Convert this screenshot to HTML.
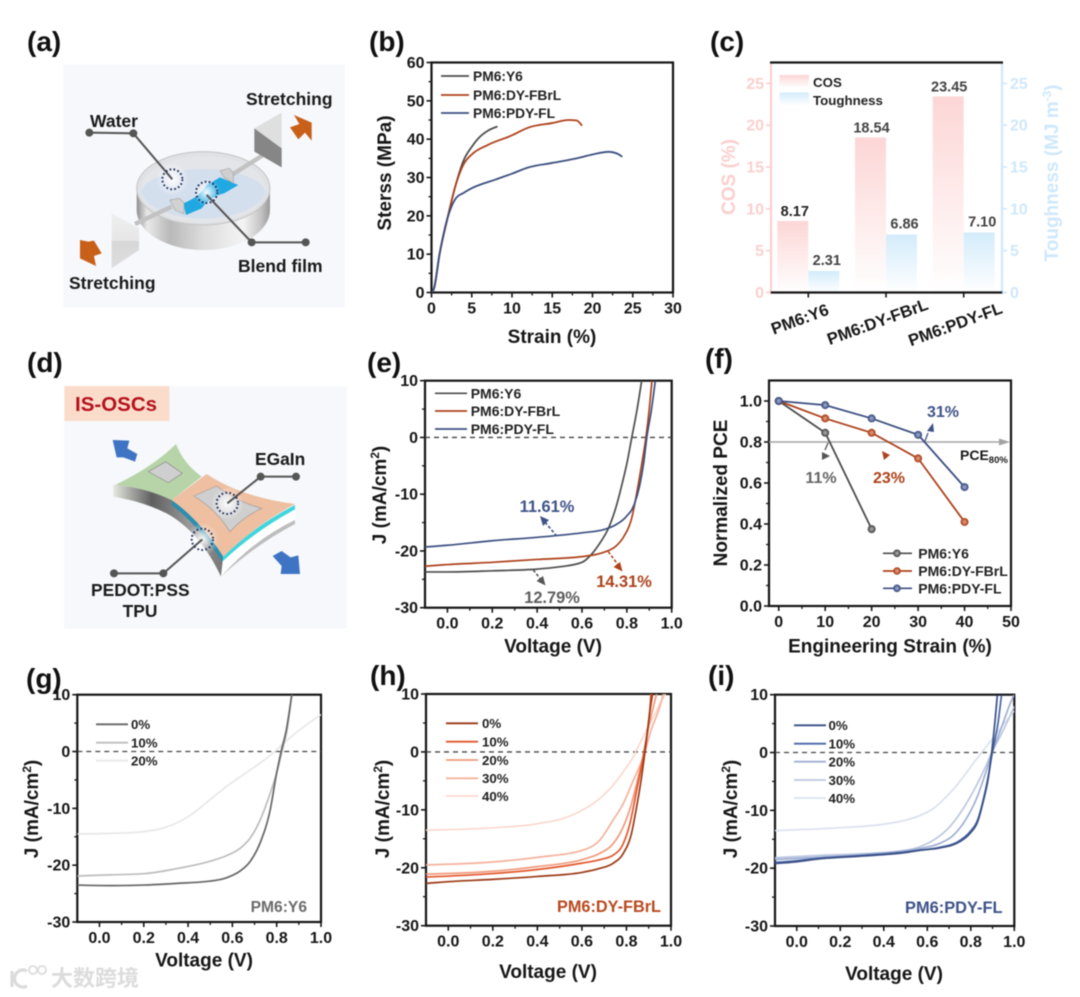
<!DOCTYPE html>
<html lang="en">
<head>
<meta charset="utf-8">
<title>Stretchable organic solar cell figure</title>
<style>
html,body{margin:0;padding:0;background:#fff;}
#figure{display:block;position:absolute;left:0;top:0;width:1080px;height:997px;filter:blur(.45px);
font-family:"Liberation Sans","Noto Sans CJK SC",sans-serif;font-weight:bold;}
</style>
</head>
<body>
<svg id="figure" xmlns="http://www.w3.org/2000/svg" width="1080" height="997" viewBox="0 0 1080 997">
<defs>
<linearGradient id="cos-grad" x1="0" y1="0" x2="0" y2="1"><stop offset="0" stop-color="#fdd6d6"/><stop offset="1" stop-color="#ffffff"/></linearGradient>
<linearGradient id="tough-grad" x1="0" y1="0" x2="0" y2="1"><stop offset="0" stop-color="#d3ecfb"/><stop offset="1" stop-color="#ffffff"/></linearGradient>
<linearGradient id="metal" x1="0" y1="0" x2="1" y2="0"><stop offset="0" stop-color="#8f8f8f"/><stop offset=".08" stop-color="#e9e9e9"/><stop offset=".25" stop-color="#b9b9b9"/><stop offset=".5" stop-color="#dcdcdc"/><stop offset=".8" stop-color="#f4f4f4"/><stop offset=".93" stop-color="#c4c4c4"/><stop offset="1" stop-color="#9a9a9a"/></linearGradient>
<linearGradient id="plate" x1="0" y1="0" x2="0" y2="1"><stop offset="0" stop-color="#efefef"/><stop offset=".5" stop-color="#e6e6e6"/><stop offset=".5" stop-color="#d7d7d7"/><stop offset="1" stop-color="#dedede"/></linearGradient>
<linearGradient id="edge" x1="0" y1="0" x2="1" y2="0"><stop offset="0" stop-color="#e5e7e0"/><stop offset=".35" stop-color="#5f5f5f"/><stop offset=".7" stop-color="#9a9a9a"/><stop offset="1" stop-color="#777"/></linearGradient>
<radialGradient id="glow"><stop offset="0" stop-color="#fff" stop-opacity=".95"/><stop offset="1" stop-color="#fff" stop-opacity="0"/></radialGradient>
<radialGradient id="dot-gray"><stop offset="0" stop-color="#b5b5b5"/><stop offset="1" stop-color="#4d4d4d"/></radialGradient>
<radialGradient id="dot-red"><stop offset="0" stop-color="#eaa98f"/><stop offset="1" stop-color="#ad421b"/></radialGradient>
<radialGradient id="dot-blue"><stop offset="0" stop-color="#a9b7da"/><stop offset="1" stop-color="#3b4f80"/></radialGradient>
</defs>

<rect width="1080" height="997" fill="#fff"/>

<!-- Panel letters -->
<g font-size="28" fill="#111">
<text x="27" y="51">(a)</text>
<text x="369" y="51">(b)</text>
<text x="710" y="51">(c)</text>
<text x="27" y="372">(d)</text>
<text x="367" y="372">(e)</text>
<text x="705" y="368">(f)</text>
<text x="26" y="688">(g)</text>
<text x="370" y="685">(h)</text>
<text x="708" y="685">(i)</text>
</g>

<!-- Panel a illustration -->
<g transform="translate(20,20) scale(.33333)">
<rect x="130" y="133" width="845" height="729" fill="#f6f8fb"/>
<path d="M350 505 L350 570 A200 120 0 0 0 750 570 L750 505 Z" fill="url(#metal)"/>
<ellipse cx="550" cy="505" rx="200" ry="110" fill="#dfe1e4" stroke="#c4c4c4" stroke-width="3"/>
<ellipse cx="550" cy="508" rx="187" ry="100" fill="#e3e5e9"/>
<path d="M364 515 A187 90 0 0 0 736 515 A187 76 0 0 0 364 515 Z" fill="#d4dfed"/>
<circle cx="457" cy="478" r="50" fill="url(#glow)"/>
<path d="M600 472 L655 495 L612 520 Q570 530 545 565 L498 585 L490 550 Q540 530 560 495 Z" fill="#1fa8e2"/>
<circle cx="560" cy="517" r="42" fill="url(#glow)"/>
<line x1="345" y1="612" x2="455" y2="560" stroke="#c2c2c2" stroke-width="13"/>
<line x1="635" y1="465" x2="750" y2="392" stroke="#c2c2c2" stroke-width="13"/>
<polygon points="450,540 478,535 492,548 492,582 465,570" fill="#d2d2d2" stroke="#a5a5a5" stroke-width="2"/>
<polygon points="600,452 628,445 640,458 640,490 612,472" fill="#cfcfcf" stroke="#a5a5a5" stroke-width="2"/>
<polygon points="275,580 357,625 357,690 275,745" fill="url(#plate)"/>
<polygon points="703,325 785,278 785,385" fill="#dfdfdf"/>
<polygon points="703,325 785,385 785,442 703,395" fill="#868686"/>
<polygon points="822,285 875,308 875,362 855,338 835,358 810,322 838,312" fill="#c9601a"/>
<polygon points="180,660 205,665 222,662 245,700 222,708 228,738 180,715" fill="#c9601a"/>
<polyline points="208,338 340,340 457,478" fill="none" stroke="#555" stroke-width="6"/>
<circle cx="208" cy="338" r="12" fill="#555"/>
<circle cx="340" cy="340" r="12" fill="#555"/>
<circle cx="457" cy="478" r="30" fill="none" stroke="#1f2d5c" stroke-width="6" stroke-dasharray="5 7"/>
<polyline points="560,525 695,667 857,667" fill="none" stroke="#555" stroke-width="6"/>
<circle cx="695" cy="667" r="12" fill="#555"/>
<circle cx="857" cy="667" r="12" fill="#555"/>
<circle cx="560" cy="517" r="32" fill="none" stroke="#1f2d5c" stroke-width="6" stroke-dasharray="5 7"/>
</g>
<g font-size="17.5" fill="#1a1a1a">
<text x="90" y="127">Water</text>
<text x="246" y="105">Stretching</text>
<text x="69" y="289">Stretching</text>
<text x="238" y="272">Blend film</text>
</g>

<!-- Panel d illustration -->
<g transform="translate(20,350) scale(.33333)">
<rect x="133" y="108" width="847" height="727" fill="#f6f8fb"/>
<rect x="133" y="108" width="315" height="105" fill="#fbdccb"/>
<path d="M280 405 Q370 410 455 450 Q540 510 610 620 L603 680 Q540 545 440 490 Q370 455 280 440 Z" fill="url(#edge)"/>
<path d="M455 450 Q540 510 610 620 L607 636 Q540 530 455 465 Z" fill="#2a8fb0"/>
<path d="M610 620 Q700 530 825 465 L825 510 Q700 570 603 680 Z" fill="#ffffff"/>
<path d="M603 680 Q700 570 825 510 L825 522 Q705 585 603 680 Z" fill="#bdbdbd"/>
<path d="M610 620 Q700 530 825 465 L825 478 Q705 543 608 634 Z" fill="#3fd6de"/>
<path d="M285 405 Q400 350 468 282 Q490 340 545 380 L455 450 Q370 410 285 405 Z" fill="#b6d4a8"/>
<path d="M455 450 L560 372 Q660 440 825 462 Q700 530 610 620 Q540 510 455 450 Z" fill="#eebfa0"/>
<polygon points="385,365 437,335 487,370 445,398" fill="#cfcfcf" stroke="#8a8a8a" stroke-width="2"/>
<path d="M522 438 L590 408 Q650 455 725 475 Q670 500 630 545 Q590 480 522 438 Z" fill="#cfcfcf" stroke="#9a9a9a" stroke-width="2"/>
<circle cx="622" cy="460" r="50" fill="url(#glow)"/>
<circle cx="547" cy="568" r="50" fill="url(#glow)"/>
<polygon points="278,270 328,272 322,295 352,312 345,335 310,322 290,322" fill="#3f74c4"/>
<polygon points="758,618 785,603 812,622 835,616 840,672 782,672 785,648" fill="#3f74c4"/>
<polyline points="622,460 722,380 828,380" fill="none" stroke="#555" stroke-width="6"/>
<circle cx="722" cy="380" r="12" fill="#555"/>
<circle cx="828" cy="380" r="12" fill="#555"/>
<circle cx="622" cy="460" r="32" fill="none" stroke="#1f2d5c" stroke-width="6" stroke-dasharray="5 7"/>
<polyline points="547,568 430,670 282,670" fill="none" stroke="#555" stroke-width="6"/>
<circle cx="430" cy="670" r="12" fill="#555"/>
<circle cx="282" cy="670" r="12" fill="#555"/>
<circle cx="547" cy="568" r="32" fill="none" stroke="#1f2d5c" stroke-width="6" stroke-dasharray="5 7"/>
</g>
<g>
<text x="75" y="411" font-size="20.5" fill="#b5121b">IS-OSCs</text>
<text x="255" y="465" font-size="17.4" fill="#1a1a1a">EGaIn</text>
<text x="91" y="596" font-size="17.4" fill="#1a1a1a">PEDOT:PSS</text>
<text x="140" y="617" font-size="17.4" fill="#1a1a1a" text-anchor="middle">TPU</text>
</g>

<g id="panel-b"></g>
<g id="panel-c"></g>
<g id="panel-e"></g>
<g id="panel-f"></g>
<g id="panel-g"></g>
<g id="panel-h"></g>
<g id="panel-i"></g>

<!-- Panel e annotations -->
<g>
<text x="547" y="512" font-size="16.4" fill="#3f5388" text-anchor="middle">11.61%</text>
<line x1="556.7" y1="536" x2="544" y2="521" stroke="#3f5388" stroke-width="1.6" stroke-dasharray="3 2"/>
<polygon points="540,516 549,520 543,526" fill="#3f5388"/>
<text x="624" y="587" font-size="16.4" fill="#ad421b" text-anchor="middle">14.31%</text>
<line x1="608.3" y1="551.7" x2="619" y2="566" stroke="#ad421b" stroke-width="1.6" stroke-dasharray="3 2"/>
<polygon points="622.5,571.5 613.5,567 620,562" fill="#ad421b"/>
<text x="552" y="603" font-size="16.4" fill="#5f5f5f" text-anchor="middle">12.79%</text>
<line x1="533.3" y1="570" x2="542" y2="581" stroke="#555" stroke-width="1.6" stroke-dasharray="3 2"/>
<polygon points="545.5,585.5 536.5,581 543,576" fill="#555"/>
</g>

<!-- Panel f annotations -->
<g>
<text x="943" y="417" font-size="16" fill="#3f5388" text-anchor="middle">31%</text>
<text x="889" y="483" font-size="16" fill="#ad421b" text-anchor="middle">23%</text>
<text x="821" y="483" font-size="16" fill="#666" text-anchor="middle">11%</text>
<text x="960" y="460" font-size="14" fill="#1a1a1a">PCE<tspan font-size="9.5" dy="3">80%</tspan></text>
<line x1="825" y1="450" x2="828" y2="443" stroke="#555" stroke-width="1.3"/>
<polygon points="822,452 830,456 822,460" fill="#555"/>
<polygon points="882,451 890,455 884,460" fill="#ad421b"/>
<polygon points="927,431 933,423 934,432" fill="#3f5388"/>
<line x1="925" y1="441" x2="928" y2="433" stroke="#3f5388" stroke-width="1.3"/>
</g>

<!-- Watermark -->
<g>
<path d="M12 971 L12 987 M27 971 A8.5 8.5 0 1 0 27 986" fill="none" stroke="#dcdcdc" stroke-width="3.2"/>
<circle cx="33" cy="970" r="4" fill="none" stroke="#dcdcdc" stroke-width="1.8"/>
<circle cx="42" cy="970" r="4" fill="none" stroke="#dcdcdc" stroke-width="1.8"/>
<text x="51" y="986" font-size="22" fill="#dcdcdc" font-weight="bold">大数跨境</text>
</g>

<script>
// ---------- Panel b data ----------
const bXTicks = ['0','5','10','15','20','25','30'];
const bYTicks = ['0','10','20','30','40','50','60'];
const bNames = ['PM6:Y6','PM6:DY-FBrL','PM6:PDY-FL'];
const bY6Strain = [0,0.3,1,2,3,4,5,6,7,8.2];
const bY6Stress = [0,1,10,19.5,28,34.5,38,40.6,42.2,43.3];
const bDyStrain = [0,0.3,1,2,3,4,5,7,10,12,15,17,18,18.7];
const bDyStress = [0,1,10,19.5,28,33.5,36,38.5,41,43,44.2,45,44.9,43.5];
const bPdyStrain = [0,0.3,1,2,2.5,3,4,5,8,10,12,15,18,20,22,23,23.7];
const bPdyStress = [0,1,10,19.5,22.5,24.5,26,27.2,29.5,31,32.6,33.8,35,36,36.7,36.3,35.4];

// ---------- Panel c data ----------
const cCategories = ['PM6:Y6','PM6:DY-FBrL','PM6:PDY-FL'];
const cCos = [8.55,18.54,23.45];
const cToughness = [2.58,6.94,7.18];
const cCosLabels = ['8.17','18.54','23.45'];
const cToughnessLabels = ['2.31','6.86','7.10'];
const cTicks = ['0','5','10','15','20','25'];

// ---------- Panel e data ----------
const eXTicks = ['0.0','0.2','0.4','0.6','0.8','1.0'];
const eYTicks = ['-30','-20','-10','0','10'];
const eNames = ['PM6:Y6','PM6:DY-FBrL','PM6:PDY-FL'];
const eY6V = [-0.1,0,0.2,0.4,0.5,0.6,0.655,0.69,0.718,0.75,0.78,0.8,0.822,0.845,0.866];
const eY6J = [-23.7,-23.7,-23.5,-23.2,-22.8,-22,-20,-18,-16,-12.5,-8,-4.6,0,4.8,10];
const eDyV = [-0.1,0,0.2,0.4,0.6,0.7,0.75,0.786,0.823,0.846,0.868,0.885,0.9,0.912];
const eDyJ = [-22.7,-22.4,-22,-21.5,-21,-20.2,-19.2,-17.5,-14,-9.4,-4.3,0,5,10];
const ePdyV = [-0.1,0,0.2,0.4,0.6,0.7,0.75,0.796,0.834,0.857,0.875,0.889,0.91,0.927];
const ePdyJ = [-19.3,-19,-18.2,-17.6,-16.8,-16.2,-15.4,-14,-11.7,-8.5,-4.5,0,5,10];

// ---------- Panel f data ----------
const fXTicks = ['0','10','20','30','40','50'];
const fYTicks = ['0.0','0.2','0.4','0.6','0.8','1.0'];
const fNames = ['PM6:Y6','PM6:DY-FBrL','PM6:PDY-FL'];
const fY6Strain = [0,10,20];
const fY6Pce = [1,0.845,0.375];
const fDyStrain = [0,10,20,30,40];
const fDyPce = [1,0.915,0.845,0.72,0.41];
const fPdyStrain = [0,10,20,30,40];
const fPdyPce = [1,0.98,0.915,0.835,0.58];
const fThreshold = 0.8;

// ---------- Panel g data ----------
const gNames = ['0%','10%','20%'];
const gV0 = [-0.1,0.05,0.2,0.35,0.5,0.575,0.636,0.681,0.726,0.771,0.8,0.82,0.844,0.868];
const gJ0 = [-23.5,-23.6,-23.5,-23.2,-22.8,-22.2,-21,-19.3,-16,-10.2,-3.75,0,3.9,10];
const gV10 = [-0.1,0.05,0.2,0.35,0.5,0.575,0.636,0.681,0.726,0.771,0.8,0.824,0.847,0.868];
const gJ10 = [-21.9,-21.7,-21.5,-20.6,-19.3,-18.3,-17,-15.2,-12,-7.3,-3.75,0,3.9,10];
const gV20 = [-0.1,0.05,0.17,0.275,0.35,0.425,0.5,0.575,0.65,0.726,0.786,0.83,0.907,1];
const gJ20 = [-14.5,-14.4,-14.2,-13.6,-12.55,-10.8,-8.45,-6.1,-4.05,-2,-0.2,1.4,3.9,6.5];

// ---------- Panel h data ----------
const hNames = ['0%','10%','20%','30%','40%'];
const hV0 = [-0.1,0,0.2,0.4,0.6,0.681,0.741,0.786,0.823,0.846,0.868,0.883,0.906,0.917];
const hJ0 = [-22.7,-22.4,-22,-21.5,-20.8,-20.1,-19.2,-17.5,-14,-9.4,-4.3,0,7.2,10];
const hV10 = [-0.1,0.2,0.4,0.6,0.681,0.741,0.786,0.816,0.846,0.879,0.906,0.91];
const hJ10 = [-21.6,-21,-20.3,-19.2,-18.6,-17.8,-15.8,-12.3,-6.6,0,7.8,10];
const hV20 = [-0.1,0.2,0.4,0.6,0.681,0.741,0.786,0.823,0.853,0.879,0.898,0.928,0.935];
const hJ20 = [-21.1,-20.6,-19.8,-18.6,-17.5,-15.8,-12.9,-8.9,-4.3,0,4,8.9,10];
const hV30 = [-0.1,0.2,0.4,0.6,0.681,0.741,0.786,0.831,0.861,0.883,0.906,0.958,0.965];
const hJ30 = [-19.5,-19,-18.2,-17,-15.2,-11.7,-8.9,-4.9,-2.3,0,3.2,8.9,10];
const hV40 = [-0.1,0.2,0.4,0.55,0.681,0.741,0.786,0.831,0.841,0.883,0.928,0.958,0.975];
const hJ40 = [-13.5,-13.1,-12.4,-11,-8,-5.7,-3.4,-0.8,0,3.2,6.6,8.9,10];

// ---------- Panel i data ----------
const iNames = ['0%','10%','20%','30%','40%'];
const iV0 = [-0.1,0,0.1,0.3,0.5,0.566,0.658,0.75,0.796,0.834,0.857,0.88,0.896,0.911,0.922];
const iJ0 = [-19.2,-18.9,-18.4,-17.9,-17.3,-16.9,-16.5,-15.4,-14,-11.7,-8.5,-4.5,0,5.3,9.9];
const iV10 = [-0.1,0,0.1,0.3,0.5,0.566,0.658,0.75,0.796,0.834,0.857,0.88,0.899,0.926,0.941];
const iJ10 = [-19,-18.7,-18.3,-17.8,-17.2,-16.9,-16.4,-15.2,-13.7,-11.4,-8.2,-4.2,0,5.3,9.9];
const iV20 = [-0.1,0.1,0.3,0.5,0.566,0.658,0.72,0.78,0.827,0.865,0.899,0.934,0.992,1];
const iJ20 = [-18.5,-18.1,-17.7,-17,-16.6,-15.7,-14.3,-11.4,-7.9,-3.9,0,3.6,9.4,10];
const iV30 = [-0.1,0.1,0.3,0.5,0.566,0.643,0.704,0.765,0.819,0.865,0.896,0.934,0.992,1];
const iJ30 = [-18.2,-17.8,-17.5,-16.9,-16.3,-14.8,-12.8,-9.7,-6.2,-2.7,0,2.7,7.3,8];
const iV40 = [-0.1,0.2,0.4,0.5,0.566,0.627,0.689,0.75,0.811,0.85,0.896,0.949,1];
const iJ40 = [-13.5,-13,-12.4,-11.7,-10.9,-9.7,-7.6,-5,-1.9,0,2.2,4.8,7.2];

const SVGNS = 'http://www.w3.org/2000/svg';
const INK = '#161616';

function mk(tag, attrs, parent) {
  const el = document.createElementNS(SVGNS, tag);
  for (const k in attrs) el.setAttribute(k, attrs[k]);
  parent.appendChild(el);
  return el;
}

function linear(d0, d1, r0, r1) {
  return function (v) { return r0 + (v - d0) * (r1 - r0) / (d1 - d0); };
}

// Monotone cubic through data points (x strictly increasing), Steffen-style slopes
function curvePath(xs, ys) {
  const n = xs.length;
  const m = new Array(n).fill(0);
  const s = [];
  const h = [];
  for (let i = 0; i < n - 1; i++) {
    h.push(xs[i + 1] - xs[i]);
    s.push((ys[i + 1] - ys[i]) / h[i]);
  }
  for (let i = 1; i < n - 1; i++) {
    const p = (s[i - 1] * h[i] + s[i] * h[i - 1]) / (h[i - 1] + h[i]);
    m[i] = (Math.sign(s[i - 1]) + Math.sign(s[i])) *
      Math.min(Math.abs(s[i - 1]), Math.abs(s[i]), 0.5 * Math.abs(p));
  }
  m[0] = (3 * s[0] - m[1]) / 2;
  m[n - 1] = (3 * s[n - 2] - m[n - 2]) / 2;
  let d = 'M' + xs[0].toFixed(2) + ' ' + ys[0].toFixed(2);
  for (let i = 0; i < n - 1; i++) {
    const t = h[i] / 3;
    d += 'C' + (xs[i] + t).toFixed(2) + ' ' + (ys[i] + m[i] * t).toFixed(2) + ' ' +
         (xs[i + 1] - t).toFixed(2) + ' ' + (ys[i + 1] - m[i + 1] * t).toFixed(2) + ' ' +
         xs[i + 1].toFixed(2) + ' ' + ys[i + 1].toFixed(2);
  }
  return d;
}

function rotatedTitle(parent, cx, cy, size, fill, main, sup, tail) {
  const t = mk('text', {x: cx, y: cy, 'font-size': size, fill: fill, 'text-anchor': 'middle',
    transform: 'rotate(-90 ' + cx + ' ' + cy + ')'}, parent);
  
  
  const a = mk('tspan', {}, t);
  a.textContent = main;
  if (sup) {
    const b = mk('tspan', {dy: -7, 'font-size': size * 0.62}, t);
    b.textContent = sup;
    const c = mk('tspan', {dy: 7}, t);
    c.textContent = tail;
  }
  return t;
}

function axes(parent, c) {
  const sx = linear(c.xMin, c.xMax, c.left, c.right);
  const sy = linear(c.yMin, c.yMax, c.bottom, c.top);
  const frame = mk('rect', {x: c.left, y: c.top, width: c.right - c.left, height: c.bottom - c.top,
    fill: 'none', stroke: INK, 'stroke-width': 2.2}, parent);
  
  

  c.xTicks.forEach(function (label, i) {
    const v = parseFloat(label);
    const x = sx(v);
    const tick = mk('line', {x1: x, x2: x, y1: c.bottom, y2: c.bottom + 5, stroke: INK, 'stroke-width': 1.6}, parent);
    
    
    const txt = mk('text', {x: x, y: c.bottom + 21, 'font-size': 16, fill: INK, 'text-anchor': 'middle'}, parent);
    
    
    txt.textContent = label;
    if (i < c.xTicks.length - 1) {
      const mx = sx((v + parseFloat(c.xTicks[i + 1])) / 2);
      const minor = mk('line', {x1: mx, x2: mx, y1: c.bottom, y2: c.bottom + 3, stroke: INK, 'stroke-width': 1.3}, parent);
      
      
    }
  });
  c.yTicks.forEach(function (label, i) {
    const v = parseFloat(label);
    const y = sy(v);
    const tick = mk('line', {x1: c.left, x2: c.left - 5, y1: y, y2: y, stroke: INK, 'stroke-width': 1.6}, parent);
    
    
    const txt = mk('text', {x: c.left - 7, y: y + 5.5, 'font-size': 16, fill: INK, 'text-anchor': 'end'}, parent);
    
    
    txt.textContent = label;
    if (i < c.yTicks.length - 1) {
      const my = sy((v + parseFloat(c.yTicks[i + 1])) / 2);
      const minor = mk('line', {x1: c.left, x2: c.left - 3, y1: my, y2: my, stroke: INK, 'stroke-width': 1.3}, parent);
      
      
    }
  });

  const xt = mk('text', {x: c.xTitleX, y: c.xTitleY, 'font-size': 19, fill: INK, 'text-anchor': 'middle'}, parent);
  
  
  xt.textContent = c.xTitle;

  rotatedTitle(parent, c.yTitleX, c.yTitleY, 19, INK, c.yTitle, c.yTitleSup, c.yTitleTail);

  const clipId = 'clip-' + parent.id;
  const defs = mk('defs', {}, parent);
  const cp = mk('clipPath', {id: clipId}, defs);
  mk('rect', {x: c.left, y: c.top, width: c.right - c.left, height: c.bottom - c.top}, cp);
  return {sx: sx, sy: sy, clipId: clipId};
}

function drawCurve(parent, s, xs, ys, color, width) {
  const path = mk('path', {d: curvePath(xs.map(s.sx), ys.map(s.sy)), fill: 'none', stroke: color,
    'stroke-width': width, 'clip-path': 'url(#' + s.clipId + ')', 'stroke-linejoin': 'round'}, parent);
  
  
  return path;
}

function drawLegend(parent, names, colors, x1, x2, textX, ys, size, width) {
  names.forEach(function (name, i) {
    const ln = mk('line', {x1: x1, x2: x2, y1: ys[i], y2: ys[i], stroke: colors[i], 'stroke-width': width}, parent);
    
    
    const t = mk('text', {x: textX, y: ys[i] + size * 0.36, 'font-size': size, fill: '#222'}, parent);
    
    
    t.textContent = name;
  });
}

function drawZeroLine(parent, s, left, right) {
  const z = mk('line', {x1: left, x2: right, y1: s.sy(0), y2: s.sy(0), stroke: '#444', 'stroke-width': 1.3, 'stroke-dasharray': '5 4'}, parent);
  
  
}

const blendColors = ['#4d4d4d','#ad421b','#3b4f80'];

// Panel b
(function () {
  const p = document.getElementById('panel-b');
  const s = axes(p, {left: 431.5, right: 673, top: 62.5, bottom: 292.5, xMin: 0, xMax: 30, yMin: 0, yMax: 60,
    xTicks: bXTicks, yTicks: bYTicks, xTitle: 'Strain (%)', xTitleX: 552, xTitleY: 343,
    yTitle: 'Sterss (MPa)', yTitleX: 391, yTitleY: 173});
  drawCurve(p, s, bY6Strain, bY6Stress, blendColors[0], 1.8);
  drawCurve(p, s, bDyStrain, bDyStress, blendColors[1], 1.8);
  drawCurve(p, s, bPdyStrain, bPdyStress, blendColors[2], 1.8);
  drawLegend(p, bNames, blendColors, 441, 469, 473, [76, 95, 113], 13.8, 1.8);
})();

// Panel c
(function () {
  const p = document.getElementById('panel-c');
  const L = 771, R = 1002, T = 62.5, B = 292.5;
  const sy = linear(0, 27.5, B, T);
  const catCenters = linear(0, 2, 808.3, 963.7);
  const barW = 31;
  cCategories.forEach(function (name, i) {
    const c = catCenters(i);
    const b1 = mk('rect', {x: c - barW, y: sy(cCos[i]), width: barW, height: B - sy(cCos[i]), fill: 'url(#cos-grad)'}, p);
    
    
    const b2 = mk('rect', {x: c, y: sy(cToughness[i]), width: barW, height: B - sy(cToughness[i]), fill: 'url(#tough-grad)'}, p);
    
    
    const t1 = mk('text', {x: c - barW / 2 + (i === 0 ? 2 : 1), y: sy(cCos[i]) - 5, 'font-size': 14.5, fill: i === 0 ? '#222' : '#444', 'text-anchor': 'middle'}, p);
    
    
    t1.textContent = cCosLabels[i];
    const t2 = mk('text', {x: c + barW / 2 + 3, y: sy(cToughness[i]) - 6, 'font-size': 14.5, fill: '#444', 'text-anchor': 'middle'}, p);
    
    
    t2.textContent = cToughnessLabels[i];
    const tick = mk('line', {x1: c, x2: c, y1: B, y2: B + 5, stroke: INK, 'stroke-width': 1.6}, p);
    
    
    const lx = c - 6.5, ly = B + 32 + i * 2.5;
    const lab = mk('text', {x: lx, y: ly, 'font-size': 16.6, fill: INK, 'text-anchor': 'middle', transform: 'rotate(-20 ' + lx + ' ' + ly + ')'}, p);
    
    
    lab.textContent = name;
  });
  const left = mk('line', {x1: L, x2: L, y1: T, y2: B, stroke: '#fbcfcf', 'stroke-width': 2.2}, p);
  
  
  const right = mk('line', {x1: R, x2: R, y1: T, y2: B, stroke: '#cfe8fb', 'stroke-width': 2.2}, p);
  
  
  const top = mk('line', {x1: L - 1, x2: R + 1, y1: T, y2: T, stroke: INK, 'stroke-width': 2.2}, p);
  
  
  const bottom = mk('line', {x1: L - 1, x2: R + 1, y1: B, y2: B, stroke: INK, 'stroke-width': 2.2}, p);
  
  
  cTicks.forEach(function (label) {
    const y = sy(parseFloat(label));
    const lt = mk('line', {x1: L, x2: L - 5, y1: y, y2: y, stroke: '#fbcfcf', 'stroke-width': 1.6}, p);
    
    
    const rt = mk('line', {x1: R, x2: R + 5, y1: y, y2: y, stroke: '#cfe8fb', 'stroke-width': 1.6}, p);
    
    
    const lb = mk('text', {x: L - 7, y: y + 5.5, 'font-size': 16, fill: '#fbcfcf', 'text-anchor': 'end'}, p);
    
    
    lb.textContent = label;
    const rb = mk('text', {x: R + 8, y: y + 5.5, 'font-size': 16, fill: '#cfe8fb'}, p);
    
    
    rb.textContent = label;
  });
  rotatedTitle(p, 735, 177, 19, '#fbcfcf', 'COS (%)');
  rotatedTitle(p, 1058, 173, 19, '#cfe8fb', 'Toughness (MJ m', '-3', ')');
  const sw1 = mk('rect', {x: 779.5, y: 75, width: 29.5, height: 13, fill: 'url(#cos-grad)'}, p);
  
  
  const sw2 = mk('rect', {x: 779.5, y: 92.5, width: 29.5, height: 13, fill: 'url(#tough-grad)'}, p);
  
  
  const lg1 = mk('text', {x: 813, y: 87, 'font-size': 13.3, fill: '#222'}, p);
  
  
  lg1.textContent = 'COS';
  const lg2 = mk('text', {x: 813, y: 105, 'font-size': 13.3, fill: '#222'}, p);
  
  
  lg2.textContent = 'Toughness';
})();

// Panel e
(function () {
  const p = document.getElementById('panel-e');
  const s = axes(p, {left: 425, right: 671.7, top: 380.7, bottom: 607.7, xMin: -0.1, xMax: 1, yMin: -30, yMax: 10,
    xTicks: eXTicks, yTicks: eYTicks, xTitle: 'Voltage (V)', xTitleX: 553, xTitleY: 652.5,
    yTitle: 'J (mA/cm', yTitleSup: '2', yTitleTail: ')', yTitleX: 386, yTitleY: 495});
  drawZeroLine(p, s, 425, 671.7);
  drawCurve(p, s, eY6V, eY6J, blendColors[0], 1.7);
  drawCurve(p, s, eDyV, eDyJ, blendColors[1], 1.7);
  drawCurve(p, s, ePdyV, ePdyJ, blendColors[2], 1.7);
  drawLegend(p, eNames, blendColors, 435, 467, 470.7, [393.3, 411, 429], 14, 1.7);
})();

// Panel f
(function () {
  const p = document.getElementById('panel-f');
  const s = axes(p, {left: 769, right: 1011, top: 380.5, bottom: 606, xMin: -2.1, xMax: 50, yMin: 0, yMax: 1.1,
    xTicks: fXTicks, yTicks: fYTicks, xTitle: 'Engineering Strain (%)', xTitleX: 890, xTitleY: 652.5,
    yTitle: 'Normalized PCE', yTitleX: 727, yTitleY: 493});
  const ty = s.sy(fThreshold);
  const tl = mk('line', {x1: 769, x2: 1003, y1: ty, y2: ty, stroke: '#a3a3a3', 'stroke-width': 1.5}, p);
  
  
  const th = mk('polygon', {points: '999,' + (ty - 3.5) + ' 1010,' + ty + ' 999,' + (ty + 3.5), fill: '#a3a3a3'}, p);
  
  
  const sets = [[fY6Strain, fY6Pce, 'url(#dot-gray)'], [fDyStrain, fDyPce, 'url(#dot-red)'], [fPdyStrain, fPdyPce, 'url(#dot-blue)']];
  sets.forEach(function (set, k) {
    const pts = set[0].map(function (x, i) { return s.sx(x) + ',' + s.sy(set[1][i]); }).join(' ');
    const ln = mk('polyline', {points: pts, fill: 'none', stroke: blendColors[k], 'stroke-width': 1.8}, p);
    
    
    set[0].forEach(function (x, i) {
      const c = mk('circle', {cx: s.sx(x), cy: s.sy(set[1][i]), r: 3.6, fill: set[2], stroke: blendColors[k], 'stroke-width': .8}, p);
      
      
    });
  });
  const ly = [553.3, 571, 588.3];
  drawLegend(p, fNames, blendColors, 883, 912, 918.3, ly, 14, 1.7);
  ly.forEach(function (y, k) {
    const m = mk('circle', {cx: 897, cy: y, r: 3.4, fill: sets[k][2], stroke: blendColors[k], 'stroke-width': .8}, p);
    
    
  });
})();

function strainPanel(id, frame, sets, colors, names, legend, label, labelColor) {
  const p = document.getElementById(id);
  const s = axes(p, frame);
  drawZeroLine(p, s, frame.left, frame.right);
  for (let i = sets.length - 1; i >= 0; i--) {
    drawCurve(p, s, sets[i][0], sets[i][1], colors[i], 1.7);
  }
  drawLegend(p, names, colors, legend.x1, legend.x2, legend.tx, legend.ys, 13.3, 1.8);
  const t = mk('text', {x: label.x, y: label.y, 'font-size': label.size, fill: labelColor, 'text-anchor': 'end'}, p);
  
  
  t.textContent = label.text;
}

const jvXTicks = ['0.0','0.2','0.4','0.6','0.8','1.0'];
const jvYTicks = ['-30','-20','-10','0','10'];

strainPanel('panel-g',
  {left: 77.3, right: 321, top: 694.7, bottom: 922, xMin: -0.1, xMax: 1, yMin: -30, yMax: 10,
   xTicks: jvXTicks, yTicks: jvYTicks, xTitle: 'Voltage (V)', xTitleX: 204, xTitleY: 966.5,
   yTitle: 'J (mA/cm', yTitleSup: '2', yTitleTail: ')', yTitleX: 38, yTitleY: 809},
  [[gV0, gJ0], [gV10, gJ10], [gV20, gJ20]],
  ['#666666','#bdbdbd','#e8e8e8'], gNames,
  {x1: 96, x2: 128, tx: 131, ys: [724.3, 742.7, 760.7]},
  {x: 307, y: 912, size: 15.6, text: 'PM6:Y6'}, '#6b6b6b');

strainPanel('panel-h',
  {left: 426, right: 671, top: 694, bottom: 925.7, xMin: -0.1, xMax: 1, yMin: -30, yMax: 10,
   xTicks: jvXTicks, yTicks: jvYTicks, xTitle: 'Voltage (V)', xTitleX: 548, xTitleY: 978,
   yTitle: 'J (mA/cm', yTitleSup: '2', yTitleTail: ')', yTitleX: 389, yTitleY: 809},
  [[hV0, hJ0], [hV10, hJ10], [hV20, hJ20], [hV30, hJ30], [hV40, hJ40]],
  ['#9c3a15','#e2572b','#f09a7d','#f4b29c','#fad9cd'], hNames,
  {x1: 446, x2: 478, tx: 482, ys: [723.3, 741.7, 760, 778.3, 796]},
  {x: 661, y: 912, size: 16.3, text: 'PM6:DY-FBrL'}, '#b8491f');

strainPanel('panel-i',
  {left: 775, right: 1014.3, top: 694.7, bottom: 926, xMin: -0.1, xMax: 1, yMin: -30, yMax: 10,
   xTicks: jvXTicks, yTicks: jvYTicks, xTitle: 'Voltage (V)', xTitleX: 894, xTitleY: 980,
   yTitle: 'J (mA/cm', yTitleSup: '2', yTitleTail: ')', yTitleX: 737, yTitleY: 809},
  [[iV0, iJ0], [iV10, iJ10], [iV20, iJ20], [iV30, iJ30], [iV40, iJ40]],
  ['#3a4f86','#4a66a5','#9fb0d4','#bcc7e0','#dbe1ee'], iNames,
  {x1: 794, x2: 826, tx: 828.5, ys: [725.3, 743.7, 761.7, 780, 798]},
  {x: 1002.5, y: 913, size: 16.4, text: 'PM6:PDY-FL'}, '#3f5388');
</script>
</svg>
</body>
</html>
